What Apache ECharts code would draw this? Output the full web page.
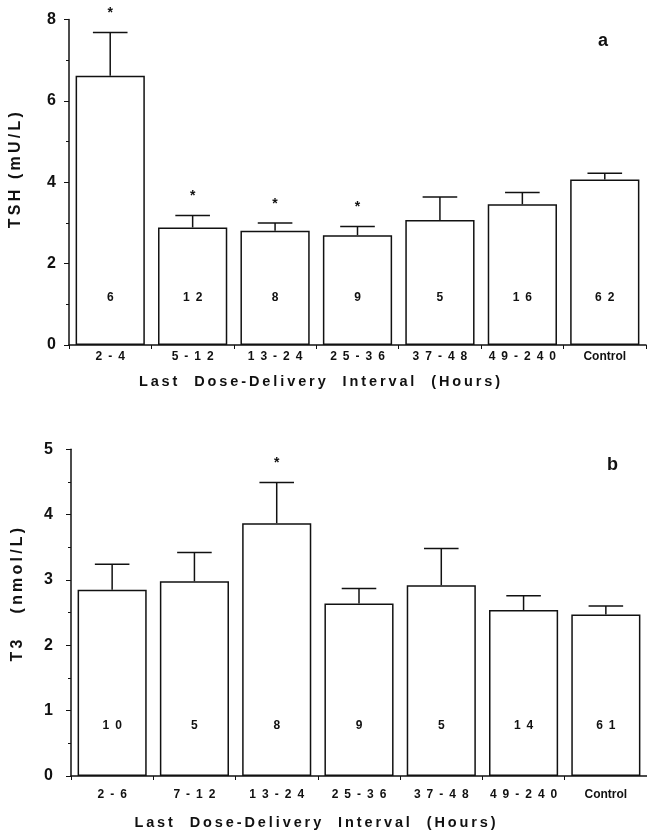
<!DOCTYPE html>
<html>
<head>
<meta charset="utf-8">
<script src="https://cdn.jsdelivr.net/npm/echarts@6/dist/echarts.min.js"></script>
<style>
  html, body { margin: 0; padding: 0; background: #fff; }
  #chart { width: 647px; height: 831px; }
</style>
</head>
<body>
<div id="chart"></div>
<script>
// panel a - TSH
const tshCats = ['2-4', '5-12', '13-24', '25-36', '37-48', '49-240', 'Control'];
const tshMean = [6.62, 2.89, 2.81, 2.70, 3.07, 3.46, 4.07];
const tshUpper = [7.68, 3.18, 3.00, 2.91, 3.64, 3.75, 4.22];
const tshN = [6, 12, 8, 9, 5, 16, 62];
const tshStar = [1, 1, 1, 1, 0, 0, 0];

// panel b - T3
const t3Cats = ['2-6', '7-12', '13-24', '25-36', '37-48', '49-240', 'Control'];
const t3Mean = [2.85, 2.98, 3.87, 2.64, 2.92, 2.54, 2.47];
const t3Upper = [3.24, 3.42, 4.49, 2.87, 3.48, 2.76, 2.60];
const t3N = [10, 5, 8, 9, 5, 14, 61];
const t3Star = [0, 0, 1, 0, 0, 0, 0];

const FONT = 'Liberation Sans, Arial, sans-serif';
const INK = '#111';

// the old typesetting spreads its letters out
const wide = s => String(s).split('').join('\u2002');
const thin = s => s.split('').join('\u2009');

function errData(mean, upper, star) {
  return mean.map((m, i) => [i, m, upper[i], star[i]]);
}

// whisker + cap + optional star
function renderErr(params, api) {
  const x = api.value(0);
  const p0 = api.coord([x, api.value(1)]);
  const p1 = api.coord([x, api.value(2)]);
  const half = api.size([1, 0])[0] * 0.21;
  const kids = [
    { type: 'line', shape: { x1: p0[0], y1: p0[1], x2: p1[0], y2: p1[1] }, style: { stroke: INK, lineWidth: 1.5 } },
    { type: 'line', shape: { x1: p1[0] - half, y1: p1[1], x2: p1[0] + half, y2: p1[1] }, style: { stroke: INK, lineWidth: 1.5 } }
  ];
  if (api.value(3)) {
    kids.push({ type: 'text', x: p1[0], y: p1[1] - 19,
      style: { text: '*', fill: INK, font: 'bold 14px ' + FONT, align: 'center', verticalAlign: 'middle' } });
  }
  return { type: 'group', children: kids };
}

function xAx(idx, cats, margin, gap, shift) {
  return {
    type: 'category', gridIndex: idx, data: cats,
    axisLine: { lineStyle: { color: INK, width: 1.5 } },
    axisTick: { show: true, length: 4, lineStyle: { color: INK } },
    axisLabel: {
      color: INK, fontFamily: FONT, fontWeight: 'bold', fontSize: 12, margin: margin, interval: 0,
      formatter: v => v === 'Control' ? v : wide(v)
    },
    name: thin('Last  Dose-Delivery  Interval  (Hours)'),
    nameLocation: 'middle', nameGap: gap,
    nameTextStyle: { color: INK, fontFamily: FONT, fontWeight: 'bold', fontSize: 14.5, padding: [0, shift, 0, 0] }
  };
}

function yAx(idx, max, interval, name, shift, margin) {
  return {
    type: 'value', gridIndex: idx, min: 0, max: max, interval: interval,
    axisLine: { show: true, lineStyle: { color: INK, width: 1.5 } },
    axisTick: { show: true, length: 5, lineStyle: { color: INK } },
    minorTick: { show: true, splitNumber: 2, length: 3, lineStyle: { color: INK } },
    splitLine: { show: false },
    axisLabel: { color: INK, fontFamily: FONT, fontWeight: 'bold', fontSize: 16, margin: margin },
    name: thin(name), nameLocation: 'middle', nameRotate: 90, nameGap: 45,
    nameTextStyle: { color: INK, fontFamily: FONT, fontWeight: 'bold', fontSize: 16, padding: [0, 0, 0, shift] }
  };
}

function barSeries(idx, mean, counts, dist) {
  return {
    type: 'bar', xAxisIndex: idx, yAxisIndex: idx, data: mean,
    barCategoryGap: '16%',
    itemStyle: { color: '#fff', borderColor: INK, borderWidth: 1.5 },
    label: {
      show: true, position: 'insideBottom', distance: dist,
      formatter: p => wide(counts[p.dataIndex]),
      color: INK, fontFamily: FONT, fontWeight: 'bold', fontSize: 12
    },
    silent: true
  };
}

const chart = echarts.init(document.getElementById('chart'));
chart.setOption({
  backgroundColor: '#fff',
  animation: false,
  grid: [
    { left: 66, top: 19.5, width: 580, height: 325.5 },
    { left: 71, top: 449.3, width: 580, height: 327.4 }
  ],
  xAxis: [xAx(0, tshCats, 6, 29, 76), xAx(1, t3Cats, 13, 39, 88)],
  yAxis: [
    yAx(0, 8, 2, 'TSH (mU/L)', 24, 13),
    yAx(1, 5, 1, 'T3   (nmol/L)', 36, 18)
  ],
  series: [
    barSeries(0, tshMean, tshN, 41),
    { type: 'custom', xAxisIndex: 0, yAxisIndex: 0, data: errData(tshMean, tshUpper, tshStar), renderItem: renderErr, z: 5 },
    barSeries(1, t3Mean, t3N, 44),
    { type: 'custom', xAxisIndex: 1, yAxisIndex: 1, data: errData(t3Mean, t3Upper, t3Star), renderItem: renderErr, z: 5 }
  ],
  graphic: [
    { type: 'text', left: 598, top: 32, style: { text: 'a', fill: INK, font: 'bold 18px ' + FONT } },
    { type: 'text', left: 607, top: 456, style: { text: 'b', fill: INK, font: 'bold 18px ' + FONT } }
  ]
});
</script>
</body>
</html>
